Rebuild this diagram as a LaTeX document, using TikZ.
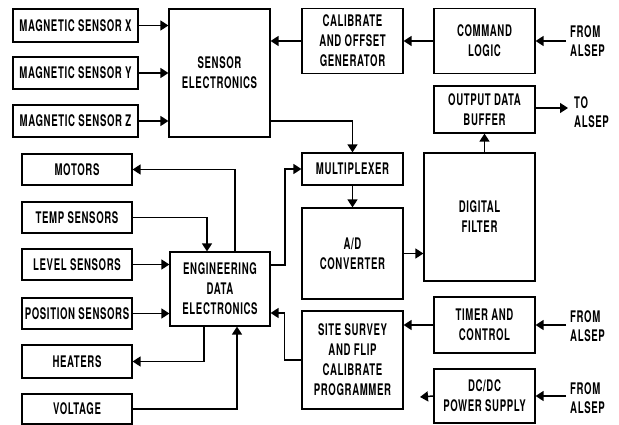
\documentclass[tikz,border=0pt]{standalone}
\usepackage{fontspec}
\setmainfont{TeX Gyre Heros}[FakeStretch=0.6, LetterSpace=4]
\usetikzlibrary{arrows.meta}
\tikzset{
  box/.style={draw, line width=1.2pt, align=center, inner sep=0pt,
    font=\fontsize{16}{20}\selectfont\bfseries},
  lbl/.style={align=left, inner sep=0pt, font=\fontsize{16}{19}\selectfont\bfseries},
  arr/.style={line width=1.5pt, -{Triangle[length=8pt,width=10pt]}},
}
\begin{document}
\begin{tikzpicture}[x=1pt,y=-1pt]
\useasboundingbox (0,0) rectangle (619,425);
% left magnetic sensors
\node[box, minimum width=125, minimum height=33] (mx) at (75.5,25.5) {MAGNETIC SENSOR X};
\node[box, minimum width=125, minimum height=32] (my) at (75.5,73) {MAGNETIC SENSOR Y};
\node[box, minimum width=125, minimum height=32] (mz) at (75.5,121) {MAGNETIC SENSOR Z};
\node[box, minimum width=101, minimum height=128] (se) at (219.5,73) {SENSOR\\ELECTRONICS};
\node[box, minimum width=101, minimum height=65] (cal) at (352.5,41) {CALIBRATE\\AND OFFSET\\GENERATOR};
\node[box, minimum width=101, minimum height=65] (cmd) at (484.5,41) {COMMAND\\LOGIC};
\node[box, minimum width=101, minimum height=47] (buf) at (484.5,109.5) {OUTPUT DATA\\BUFFER};
\node[box, minimum width=101, minimum height=32] (mux) at (352.5,169) {MULTIPLEXER};
\node[box, minimum width=101, minimum height=91] (ad) at (352.5,253.5) {A/D\\CONVERTER};
\node[box, minimum width=111, minimum height=128] (df) at (479.5,217) {DIGITAL\\FILTER};
\node[box, minimum width=101, minimum height=56] (tim) at (484.5,325) {TIMER AND\\CONTROL};
\node[box, minimum width=101, minimum height=98] (ss) at (352.5,360) {SITE SURVEY\\AND FLIP\\CALIBRATE\\PROGRAMMER};
\node[box, minimum width=101, minimum height=54] (dc) at (484.5,396) {DC/DC\\POWER SUPPLY};
% engineering side
\node[box, minimum width=110, minimum height=31] (mot) at (77,169.5) {MOTORS};
\node[box, minimum width=110, minimum height=31] (temp) at (77,217.5) {TEMP SENSORS};
\node[box, minimum width=110, minimum height=31] (lev) at (77,264.5) {LEVEL SENSORS};
\node[box, minimum width=110, minimum height=31] (pos) at (77,313.5) {POSITION SENSORS};
\node[box, minimum width=110, minimum height=33] (heat) at (77,361.5) {HEATERS};
\node[box, minimum width=110, minimum height=30] (volt) at (77,409) {VOLTAGE};
\node[box, minimum width=100, minimum height=74] (ed) at (220,289) {ENGINEERING\\DATA\\ELECTRONICS};
% external labels
\node[lbl, anchor=west] (f1) at (570,41) {FROM\\ALSEP};
\node[lbl, anchor=west] (t1) at (574,112) {TO\\ALSEP};
\node[lbl, anchor=west] (f2) at (570,326) {FROM\\ALSEP};
\node[lbl, anchor=west] (f3) at (570,398) {FROM\\ALSEP};
\coordinate (dcout) at (420,397);
% connectors
\draw[arr] (mx.east) -- (mx.east -| se.west);
\draw[arr] (my.east) -- (my.east -| se.west);
\draw[arr] (mz.east) -- (mz.east -| se.west);
\draw[arr] (cal.west) -- (cal.west -| se.east);
\draw[arr] (cmd.west) -- (cal.east);
\draw[arr] ([xshift=-4pt]f1.west) -- (cmd.east);
\draw[arr] (se.east |- 0,121) -| (mux.north);
\draw[arr] (mux.south) -- (ad.north);
\draw[arr] (ad.east) -- (ad.east -| df.west);
\draw[arr] (buf.south |- df.north) -- (buf.south);
\draw[arr] (buf.east |- 0,108) -- ([xshift=-6pt]t1.west |- 0,108);
\draw[arr] (tim.west) -- (tim.west -| ss.east);
\draw[arr] ([xshift=-4pt]f2.west |- tim.east) -- (tim.east);
\draw[arr] ([xshift=-4pt]f3.west |- dc.east) -- (dc.east);
\draw[arr] (dc.west) -- (dcout);
\draw[arr] (ss.west) -- ++(-17,0) |- (ed.east |- 0,313);
\draw[arr] (ed.east |- 0,265) -- (285,265) |- (mux.west);
\draw[arr] (ed.north -| 235,0) |- (mot.east);
\draw[arr] (temp.east) -| (ed.north -| 207,0);
\draw[arr] (lev.east) -- (lev.east -| ed.west);
\draw[arr] (pos.east) -- (pos.east -| ed.west);
\draw[arr] (ed.south -| 204,0) |- (heat.east);
\draw[arr] (volt.east) -| (ed.south -| 237,0);
\end{tikzpicture}
\end{document}
